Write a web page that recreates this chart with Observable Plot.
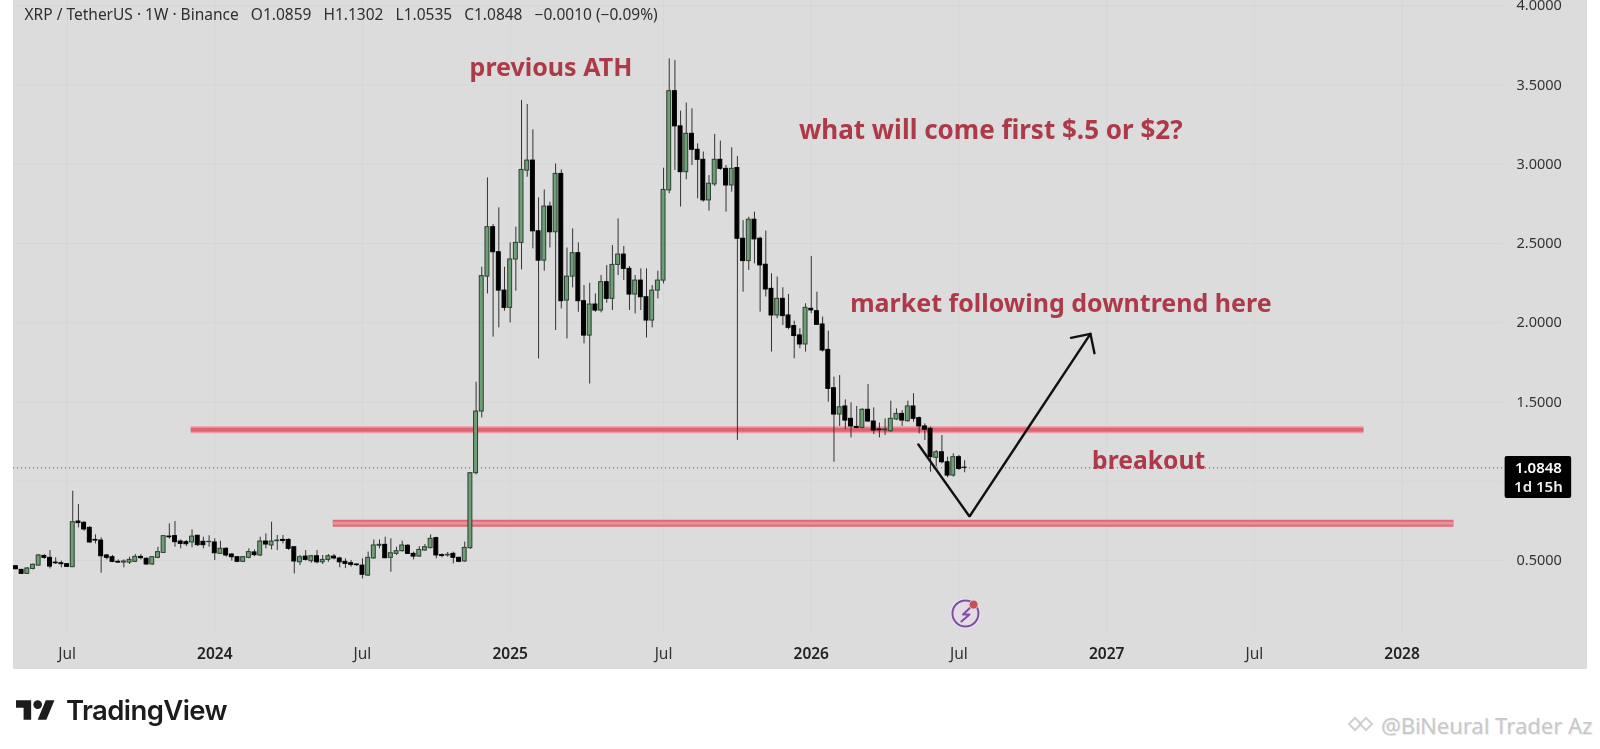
<!DOCTYPE html>
<html><head><meta charset="utf-8">
<script src="https://cdn.jsdelivr.net/npm/d3@7"></script>
<script src="https://cdn.jsdelivr.net/npm/@observablehq/plot@0.6"></script>
<style>
html,body{margin:0;padding:0;background:#fff;width:1600px;height:749px;overflow:hidden}
#panel{position:absolute;left:13px;top:0;width:1574px;height:669px;background:#dcdcdc}
#chart{position:absolute;left:0;top:0;filter:blur(.35px)}
#chart svg{background:transparent;display:block}
#logo{position:absolute;left:16px;top:695px;display:flex;align-items:center;gap:11px;color:#1c1c1c;filter:blur(.3px)}
#logo span{font:600 27.5px Inter,sans-serif;letter-spacing:-.6px;line-height:30px}
.wm{position:absolute;top:710px;font:400 22px "Noto Sans",sans-serif;color:#c8c8c8;white-space:nowrap;text-shadow:1px 1px 0 #ececec}
</style></head><body>
<div id="panel"></div><div id="chart"></div>
<div id="logo"><svg width="39" height="26" viewBox="0 2 36 22"><path d="M14 22H7V11H0V4h14v18zM28 22h-8l7.5-18h8L28 22z" fill="#1c1c1c"/><circle cx="20" cy="8" r="4" fill="#1c1c1c"/></svg><span>TradingView</span></div>
<div class="wm" style="left:1381px">@Bi</div>
<div class="wm" style="left:1420px">Neural Trader Az</div>
<svg style="position:absolute;left:1346px;top:712px" width="36" height="24" viewBox="0 0 36 24"><g fill="none" stroke="#d0d0d0" stroke-width="2"><path d="M9 6l6 6-6 6-6-6z"/><path d="M20 6l6 6-6 6-6-6z"/></g></svg>
<script>
// Weekly candles, XRP / TetherUS, first week starting 2023-05-01
const firstWeek = "2023-05-01";
const opens = [
.464,.441,.416,.447,.468,.529,.517,.487,.483,.477,
.458,.746,.738,.706,.630,.626,.532,.521,.492,.487,
.487,.492,.523,.511,.475,.517,.548,.651,.654,.620,
.616,.614,.656,.618,.616,.614,.542,.574,.538,.521,
.492,.517,.551,.532,.620,.595,.622,.630,.630,.584,
.489,.525,.496,.527,.489,.504,.525,.513,.492,.483,
.475,.468,.405,.513,.593,.599,.517,.542,.559,.593,
.542,.525,.563,.578,.641,.534,.532,.542,.517,.494,
.578,1.051,1.44,2.291,2.603,2.445,2.203,2.094,2.399,2.504,
2.96,3.023,2.577,2.392,2.733,2.571,2.939,2.14,2.291,2.439,
2.136,1.919,2.115,2.077,2.256,2.151,2.365,2.43,2.34,2.178,
2.266,2.161,2.014,2.203,2.266,2.835,3.461,3.239,2.95,3.192,
3.091,3.028,2.772,2.873,3.028,2.971,2.866,2.976,2.53,2.389,
2.65,2.53,2.366,2.214,2.046,2.151,2.046,1.979,1.92,1.863,
2.088,2.073,1.989,1.829,1.587,1.421,1.472,1.394,1.343,1.337,
1.451,1.377,1.327,1.322,1.316,1.39,1.425,1.379,1.472,1.398,
1.346,1.331,1.148,1.183,1.12,1.036,1.152,1.0859];
const highs = [
.468,.445,.454,.479,.538,.536,.563,.517,.496,.481,
.937,.853,.746,.715,.662,.643,.538,.532,.504,.504,
.521,.538,.538,.517,.521,.584,.658,.731,.746,.630,
.626,.693,.660,.647,.656,.637,.622,.580,.542,.525,
.525,.574,.567,.647,.668,.742,.658,.658,.637,.588,
.532,.563,.532,.563,.532,.538,.538,.521,.511,.500,
.479,.511,.553,.630,.630,.647,.637,.584,.622,.601,
.553,.588,.601,.662,.647,.542,.551,.553,.521,.616,
1.055,1.625,2.35,2.914,2.62,2.725,2.35,2.504,2.603,3.402,
3.377,3.217,2.788,2.838,2.76,3.002,2.964,2.472,2.592,2.504,
2.235,2.249,2.182,2.298,2.361,2.487,2.655,2.481,2.355,2.298,
2.34,2.34,2.235,2.325,2.975,3.665,3.655,3.335,3.386,3.35,
3.129,3.077,2.929,3.188,3.146,2.992,3.104,3.049,2.645,2.666,
2.698,2.54,2.578,2.309,2.288,2.221,2.179,2.01,1.962,2.12,
2.418,2.193,2.036,1.947,1.657,1.667,1.514,1.495,1.472,1.457,
1.61,1.463,1.367,1.394,1.505,1.457,1.446,1.505,1.552,1.405,
1.362,1.341,1.194,1.289,1.152,1.173,1.163,1.1302];
const lows = [
.441,.412,.412,.441,.466,.508,.447,.475,.454,.456,
.458,.706,.685,.609,.605,.420,.504,.487,.483,.454,
.475,.487,.504,.471,.471,.511,.546,.635,.584,.574,
.588,.580,.588,.574,.584,.500,.538,.521,.496,.487,
.487,.511,.525,.525,.574,.567,.563,.605,.563,.416,
.468,.496,.483,.479,.475,.489,.504,.454,.449,.458,
.462,.384,.399,.508,.574,.511,.426,.532,.553,.538,
.504,.521,.559,.574,.511,.517,.521,.479,.487,.489,
.57,1.04,1.40,2.182,1.909,1.968,2.073,1.999,2.199,2.334,
2.918,2.466,1.772,2.325,2.472,1.951,2.087,1.898,2.22,2.066,
1.867,1.614,2.066,2.062,2.123,2.077,2.298,2.266,2.077,2.056,
2.077,1.904,1.968,2.151,2.245,2.814,2.961,2.73,2.902,2.992,
2.782,2.761,2.704,2.86,2.961,2.698,2.824,1.258,2.193,2.33,
2.372,2.067,2.162,1.815,2.025,1.983,1.956,1.773,1.836,1.815,
2.057,1.983,1.815,1.499,1.12,1.346,1.325,1.274,1.331,1.331,
1.373,1.295,1.274,1.289,1.31,1.383,1.346,1.373,1.373,1.299,
1.257,1.057,1.089,1.11,1.022,1.026,1.068,1.0535];
const closes = [
.445,.416,.450,.473,.532,.517,.462,.483,.477,.460,
.742,.736,.696,.614,.626,.527,.517,.492,.487,.494,
.504,.523,.515,.475,.521,.553,.654,.647,.616,.605,
.603,.651,.597,.597,.618,.546,.574,.532,.521,.492,
.521,.553,.534,.620,.601,.620,.626,.624,.574,.494,
.521,.504,.527,.489,.504,.527,.513,.489,.479,.473,
.471,.410,.517,.595,.599,.515,.546,.559,.595,.542,
.525,.567,.584,.637,.532,.529,.536,.517,.492,.580,
1.051,1.44,2.294,2.603,2.445,2.203,2.094,2.399,2.504,2.964,
3.023,2.577,2.392,2.733,2.571,2.939,2.136,2.291,2.439,2.136,
1.919,2.115,2.077,2.256,2.151,2.365,2.43,2.34,2.178,2.266,
2.161,2.014,2.203,2.266,2.838,3.461,3.239,2.95,3.192,3.091,
3.028,2.772,2.877,3.028,2.971,2.866,2.971,2.53,2.389,2.65,
2.526,2.362,2.21,2.046,2.151,2.042,1.968,1.916,1.863,2.094,
2.078,1.987,1.825,1.583,1.421,1.467,1.383,1.346,1.337,1.451,
1.377,1.32,1.322,1.327,1.394,1.425,1.383,1.472,1.394,1.346,
1.325,1.152,1.183,1.12,1.036,1.152,1.078,1.0848];

const lastPrice = 1.0848;
const gridPrices = [0.5,1,1.5,2,2.5,3,3.5,4];
const priceLabels = [0.5,1.5,2,2.5,3,3.5,4];
const julyTicks = ["2023-07-03","2024-07-01","2025-07-07","2026-07-06","2027-07-05"];
const yearTicks = ["2024-01-01","2024-12-30","2026-01-05","2027-01-04","2028-01-03"];
const yearLabels = ["2024","2025","2026","2027","2028"];

// Annotations, all in chart coordinates (date, price)
const noteTexts = ["previous ATH","what will come first $.5 or $2?","market following downtrend here","breakout"];
const noteDates = ["2024-11-10","2025-12-21","2026-02-22","2026-12-17"];
const notePrices = [3.61,3.213,2.121,1.125];
const noteSizes = [25,26,25,24.7];
const levelPrices = [1.325,0.735];
const levelStarts = ["2023-12-03","2024-05-26"];
const levelEnds = ["2027-11-17","2028-03-07"];
const arrowDates = ["2026-05-17","2026-07-19","2026-12-15"];
const arrowPrices = [1.232,0.778,1.93];
const headDates = ["2026-11-21","2026-12-15","2026-12-20"];
const headPrices = [1.905,1.93,1.808];
const boltDates = ["2026-07-21","2026-07-11","2026-07-19","2026-07-09"];
const boltPrices = [0.209,0.159,0.159,0.115];

const D = s => new Date(s + "T00:00:00Z");
const start = D(firstWeek);
const candles = opens.map((o,i)=>({
  date: d3.utcDay.offset(start, i*7),
  open:o, high:highs[i], low:lows[i], close:closes[i], up: closes[i]>=o
}));
const seq = (ds,ps)=>ds.map((d,i)=>({date:D(d),price:ps[i]}));
const notes = noteTexts.map((t,i)=>({text:t,date:D(noteDates[i]),price:notePrices[i],size:noteSizes[i]}));
const levels = levelPrices.map((p,i)=>({price:p,a:D(levelStarts[i]),b:D(levelEnds[i])}));
const upper = [levels[0]], lower = [levels[1]];
const halfBody = d => [d3.utcHour.offset(d,-58), d3.utcHour.offset(d,58)];
const julyLabel = ()=> "Jul";
const yearLabel = d => yearLabels[yearTicks.indexOf(d3.utcFormat("%Y-%m-%d")(d))];
const FONT = '"Noto Sans",sans-serif';
const RED = "#ad3a48";
const noteMark = n => Plot.text([n],{x:"date",y:"price",text:"text",textAnchor:"start",fill:RED,fontSize:n.size,fontWeight:700,fontFamily:FONT});

const plot = Plot.plot({
  width:1600, height:669,
  marginLeft:13, marginRight:97, marginTop:0, marginBottom:37,
  style:{background:"transparent",fontFamily:FONT,overflow:"visible"},
  x:{type:"utc",domain:[D("2023-04-28"),D("2028-05-07")]},
  y:{domain:[0.046,4.033]},
  marks:[
    Plot.ruleX(julyTicks.concat(yearTicks).map(D),{stroke:"#d6d6d6",strokeWidth:1}),
    Plot.ruleY(gridPrices,{stroke:"#d6d6d6",strokeWidth:1}),
    Plot.ruleY([lastPrice],{stroke:"#555",strokeWidth:1,strokeDasharray:"1,3"}),
    // horizontal levels
    Plot.ruleY(upper,{y:"price",x1:"a",x2:"b",stroke:"#ee9aa3",strokeWidth:7}),
    Plot.ruleY(upper,{y:"price",x1:"a",x2:"b",stroke:"#dd6572",strokeWidth:4}),
    Plot.ruleY(lower,{y:"price",x1:"a",x2:"b",stroke:"#dc6a77",strokeWidth:7}),
    Plot.ruleY(lower,{y:"price",x1:"a",x2:"b",stroke:"#ee8f9a",strokeWidth:3}),
    // candles
    Plot.ruleX(candles,{x:"date",y1:"low",y2:"high",stroke:"#333",strokeWidth:1}),
    Plot.rect(candles,{
      x1:d=>halfBody(d.date)[0], x2:d=>halfBody(d.date)[1],
      y1:"open", y2:"close",
      fill:d=>d.up?"#6f9f75":"#000", stroke:d=>d.up?"#2c3f30":"#000", strokeWidth:1
    }),
    // arrow
    Plot.line(seq(arrowDates,arrowPrices),{x:"date",y:"price",stroke:"#111",strokeWidth:2.4,strokeLinejoin:"miter"}),
    Plot.line(seq(headDates,headPrices),{x:"date",y:"price",stroke:"#111",strokeWidth:2.4}),
    // notes
    ...notes.map(noteMark),
    // price tag
    Plot.rect([0],{x1:()=>D("2028-05-09"),x2:()=>D("2028-07-30"),y1:()=>1.156,y2:()=>0.891,fill:"#000",rx:2}),
    Plot.text(["1.0848"],{x:()=>D("2028-06-19"),y:()=>1.08,fill:"#fff",fontSize:15,fontWeight:600}),
    Plot.text(["1d 15h"],{x:()=>D("2028-06-19"),y:()=>0.96,fill:"#eee",fontSize:15,fontWeight:600}),
    // flash icon
    Plot.dot([0],{x:()=>D("2026-07-14"),y:()=>0.166,r:15,fill:"#f1e4f6",stroke:"none"}),
    Plot.dot([0],{x:()=>D("2026-07-14"),y:()=>0.166,r:13,fill:"#e2dbe6",stroke:"#7d4fa3",strokeWidth:2}),
    Plot.line(seq(boltDates,boltPrices),{x:"date",y:"price",stroke:"#7d4fa3",strokeWidth:2}),
    Plot.dot([0],{x:()=>D("2026-07-24"),y:()=>0.222,r:4.5,fill:"#c9525a",stroke:"#f3c9cf",strokeWidth:1}),
    // header
    Plot.text(["XRP / TetherUS · 1W · Binance\u00a0\u00a0\u00a0O1.0859\u00a0\u00a0\u00a0H1.1302\u00a0\u00a0\u00a0L1.0535\u00a0\u00a0\u00a0C1.0848\u00a0\u00a0\u00a0\u22120.0010 (\u22120.09%)"],
      {frameAnchor:"top-left",dx:11,dy:8,fill:"#2f2f2f",fontSize:15.5,textAnchor:"start",lineAnchor:"top"}),
    // axes
    Plot.axisY({anchor:"right",ticks:priceLabels,tickSize:0,tickPadding:13,tickFormat:d3.format(".4f"),label:null,fontSize:14.5,color:"#333"}),
    Plot.axisX({ticks:julyTicks.map(D),tickSize:0,tickPadding:15,tickFormat:julyLabel,label:null,fontSize:15.5,color:"#333"}),
    Plot.axisX({ticks:yearTicks.map(D),tickSize:0,tickPadding:15,tickFormat:yearLabel,label:null,fontSize:15.5,fontWeight:600,color:"#222"})
  ]
});
document.getElementById("chart").appendChild(plot);
</script>
</body></html>
